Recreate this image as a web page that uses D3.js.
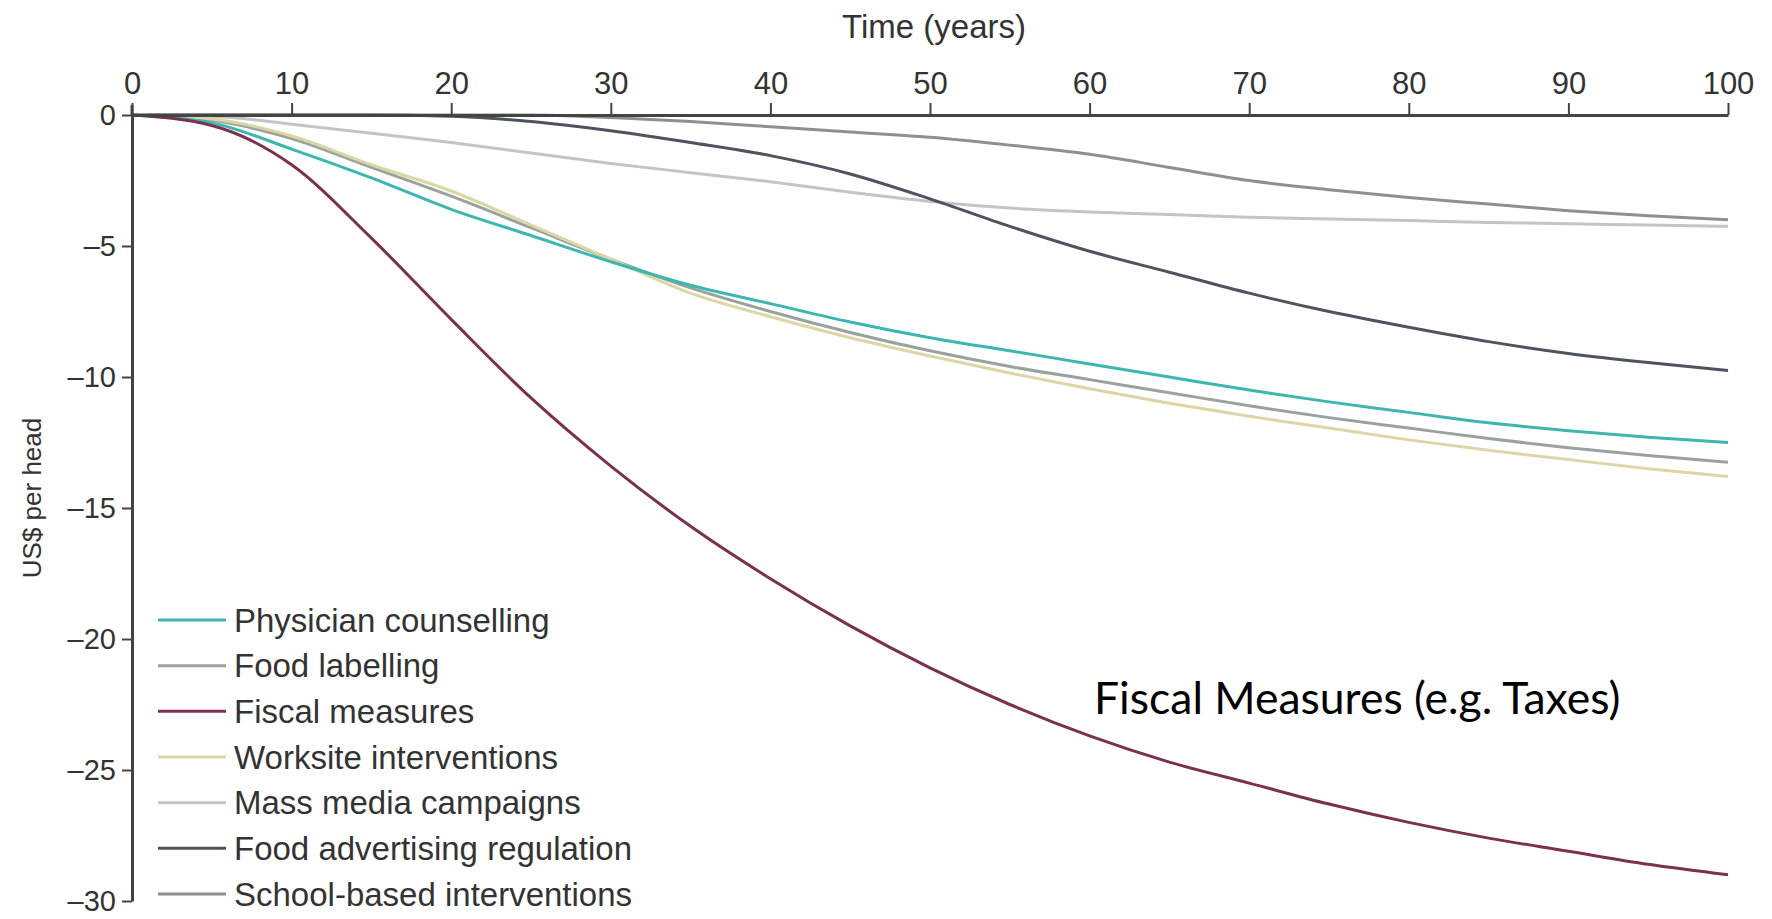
<!DOCTYPE html>
<html>
<head>
<meta charset="utf-8">
<script src="https://cdn.jsdelivr.net/npm/d3@7/dist/d3.min.js"></script>
<style>
  html, body { margin: 0; padding: 0; background: #fff; }
  svg { display: block; }
</style>
</head>
<body>
<svg id="chart" width="1772" height="919"></svg>
<script>
// ---- data ----
const years = [0,5,10,15,20,25,30,35,40,45,50,55,60,65,70,75,80,85,90,95,100];
const xTicks = [0,10,20,30,40,50,60,70,80,90,100];
const yTicks = [0,-5,-10,-15,-20,-25,-30];

const physicianCounselling = [0,-0.3,-1.3,-2.4,-3.6,-4.6,-5.6,-6.5,-7.2,-7.9,-8.5,-9.0,-9.5,-10.0,-10.5,-10.95,-11.35,-11.75,-12.05,-12.3,-12.5];
const foodLabelling        = [0,-0.2,-0.9,-2.0,-3.1,-4.3,-5.5,-6.6,-7.5,-8.3,-9.0,-9.6,-10.1,-10.6,-11.1,-11.55,-11.95,-12.35,-12.7,-13.0,-13.25];
const fiscalMeasures       = [0,-0.4,-1.9,-4.7,-7.8,-10.8,-13.4,-15.7,-17.7,-19.5,-21.1,-22.5,-23.7,-24.7,-25.5,-26.3,-27.0,-27.6,-28.1,-28.6,-29.0];
const worksiteInterventions= [0,-0.15,-0.8,-1.9,-2.9,-4.2,-5.5,-6.8,-7.7,-8.5,-9.2,-9.85,-10.45,-11.0,-11.5,-11.95,-12.4,-12.8,-13.15,-13.5,-13.8];
const massMediaCampaigns   = [0,-0.05,-0.35,-0.7,-1.05,-1.45,-1.85,-2.2,-2.55,-2.95,-3.3,-3.55,-3.7,-3.8,-3.9,-3.97,-4.03,-4.1,-4.15,-4.2,-4.25];
const foodAdvertisingReg   = [0,0,0,0,-0.05,-0.25,-0.6,-1.05,-1.55,-2.25,-3.2,-4.25,-5.2,-6.0,-6.8,-7.5,-8.1,-8.65,-9.1,-9.45,-9.75];
const schoolBased          = [0,0,0,0,0,0,-0.1,-0.25,-0.45,-0.65,-0.85,-1.15,-1.5,-2.0,-2.5,-2.85,-3.15,-3.4,-3.65,-3.85,-4.0];

const seriesNames  = ["Physician counselling","Food labelling","Fiscal measures","Worksite interventions","Mass media campaigns","Food advertising regulation","School-based interventions"];
const seriesValues = [physicianCounselling, foodLabelling, fiscalMeasures, worksiteInterventions, massMediaCampaigns, foodAdvertisingReg, schoolBased];
const seriesColors = ["#3db6b0","#9aa29c","#7a3050","#dcd6a6","#c4c4c4","#4d545e","#8f8f8f"];

// ---- layout ----
const svg = d3.select("#chart");
const x = d3.scaleLinear().domain([0,100]).range([132,1728]);
const y = d3.scaleLinear().domain([0,-30]).range([115,901]);
const txt = "#333";
const font = "'Liberation Sans', Arial, sans-serif";

// lines (drawn first, axes on top)
const line = d3.line().x((d,i)=>x(years[i])).y(d=>y(d)).curve(d3.curveMonotoneX);
const drawOrder = [4,6,5,1,3,0,2];
drawOrder.forEach(k => {
  svg.append("path")
    .datum(seriesValues[k])
    .attr("d", line)
    .attr("fill","none")
    .attr("stroke", seriesColors[k])
    .attr("stroke-width", 3)
    .attr("stroke-linejoin","round");
});

// x axis (top)
const xAxis = svg.append("g")
  .attr("transform", `translate(0,${y(0)})`)
  .call(d3.axisTop(x).tickValues(xTicks).tickFormat(d3.format("d")).tickSize(10).tickSizeOuter(0).tickPadding(11));
xAxis.select(".domain").attr("stroke","#444").attr("stroke-width",3);
xAxis.selectAll(".tick line").attr("stroke","#444").attr("stroke-width",2).attr("y2",-12);
xAxis.selectAll(".tick text").attr("fill",txt).style("font-family",font).style("font-size","31px");

// y axis (left)
const yAxis = svg.append("g")
  .attr("transform", `translate(${x(0)},0)`)
  .call(d3.axisLeft(y).tickValues(yTicks).tickFormat(d => d === 0 ? "0" : "\u2013" + Math.abs(d)).tickSize(10).tickSizeOuter(0).tickPadding(6));
yAxis.select(".domain").attr("stroke","#444").attr("stroke-width",3);
yAxis.selectAll(".tick line").attr("stroke","#444").attr("stroke-width",2);
yAxis.selectAll(".tick text").attr("fill",txt).style("font-family",font).style("font-size","29px");
// small extension of y axis above zero
svg.append("line").attr("x1",x(0)).attr("x2",x(0)).attr("y1",y(0)-10).attr("y2",y(0))
  .attr("stroke","#444").attr("stroke-width",3);

// axis titles
svg.append("text").attr("x",934).attr("y",38).attr("text-anchor","middle")
  .attr("fill",txt).style("font-family",font).style("font-size","33px").text("Time (years)");
svg.append("text").attr("transform","translate(41,498) rotate(-90)").attr("text-anchor","middle")
  .attr("fill",txt).style("font-family",font).style("font-size","26px").text("US$ per head");

// legend
const legendY = d3.scalePoint().domain(seriesNames).range([620,894]);
const lg = svg.append("g");
seriesNames.forEach((name,i) => {
  const yy = legendY(name);
  lg.append("line").attr("x1",158).attr("x2",226).attr("y1",yy).attr("y2",yy)
    .attr("stroke",seriesColors[i]).attr("stroke-width",3);
  lg.append("text").attr("x",234).attr("y",yy).attr("dy","0.35em")
    .attr("fill",txt).style("font-family",font).style("font-size","33px").text(name);
});

// annotation
svg.append("text").attr("x",1094).attr("y",714)
  .attr("fill","#000").style("font-family","Lato, 'Open Sans', sans-serif").style("font-size","44.5px")
  .text("Fiscal Measures (e.g. Taxes)");
</script>
</body>
</html>
